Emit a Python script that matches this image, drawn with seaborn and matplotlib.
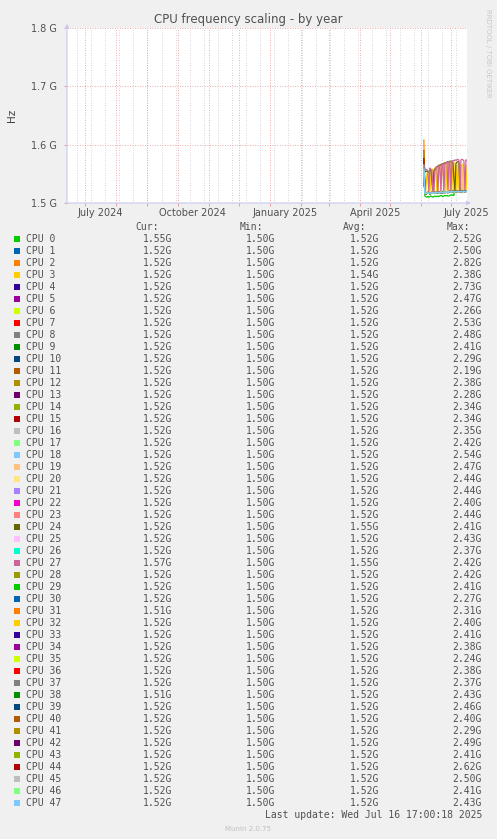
import pandas as pd
import seaborn as sns
import matplotlib.pyplot as plt
from matplotlib.patches import Rectangle

# munin default colour cycle
munin_colors = ["#00CC00", "#0066B3", "#FF8000", "#FFCC00", "#330099", "#990099", "#CCFF00",
                "#FF0000", "#808080", "#008F00", "#00487D", "#B35A00", "#B38F00", "#6B006B",
                "#8FB300", "#B30000", "#BEBEBE", "#80FF80", "#80C9FF", "#FFC080", "#FFE680",
                "#AA80FF", "#EE00CC", "#FF8080", "#666600", "#FFBFFF", "#00FFCC", "#CC6699",
                "#999900"]

cpu_names = [f"CPU {i}" for i in range(48)]

# daily samples (GHz), starting 2025-06-03
first_day = [1.575, 1.562, 1.608, 1.570, 1.558, 1.560, 1.565, 1.580, 1.556, 1.572, 1.560, 1.590,
             1.585, 1.562, 1.566, 1.578, 1.555, 1.560, 1.566, 1.575, 1.568, 1.559, 1.563, 1.570,
             1.580, 1.561, 1.557, 1.560, 1.567, 1.552, 1.559, 1.583, 1.566, 1.556, 1.562, 1.558,
             1.571, 1.553, 1.569, 1.557, 1.574, 1.582, 1.561, 1.560, 1.576, 1.555, 1.558, 1.565]

quiet = [1.517, 1.516, 1.517, 1.518, 1.517, 1.516, 1.517, 1.518, 1.517, 1.517, 1.518, 1.517,
         1.518, 1.518, 1.517, 1.518, 1.519, 1.518, 1.518, 1.519, 1.518, 1.519, 1.519, 1.518,
         1.519, 1.520, 1.519, 1.519, 1.520, 1.519, 1.519, 1.520, 1.519, 1.520, 1.520, 1.519,
         1.520, 1.519, 1.520, 1.520, 1.519, 1.520, 1.520]

cpu0 = [1.575, 1.512, 1.511, 1.510, 1.511, 1.510, 1.511, 1.512, 1.511, 1.510, 1.511, 1.512,
        1.511, 1.511, 1.512, 1.511, 1.512, 1.513, 1.512, 1.511, 1.512, 1.513, 1.512, 1.513,
        1.512, 1.512, 1.513, 1.514, 1.513, 1.514, 1.513, 1.548, 1.550, 1.549, 1.547, 1.545,
        1.520, 1.518, 1.519, 1.547, 1.546, 1.546, 1.547, 1.548]

cpu3 = [1.570, 1.540, 1.521, 1.550, 1.553, 1.520, 1.555, 1.521, 1.556, 1.558, 1.520, 1.560,
        1.562, 1.520, 1.521, 1.564, 1.565, 1.520, 1.566, 1.567, 1.520, 1.568, 1.520, 1.569,
        1.568, 1.520, 1.570, 1.520, 1.521, 1.569, 1.570, 1.520, 1.565, 1.520, 1.568, 1.521,
        1.520, 1.566, 1.520, 1.567, 1.520, 1.521, 1.565, 1.520]

cpu19 = [1.575, 1.518, 1.517, 1.519, 1.518, 1.518, 1.519, 1.518, 1.519, 1.519, 1.518, 1.519,
         1.519, 1.518, 1.519, 1.520, 1.519, 1.519, 1.520, 1.519, 1.519, 1.520, 1.519, 1.520,
         1.519, 1.520, 1.519, 1.520, 1.520, 1.519, 1.520, 1.519, 1.520, 1.520, 1.519, 1.520,
         1.565, 1.520, 1.519, 1.562, 1.520, 1.519, 1.520, 1.520]

cpu24 = [1.580, 1.553, 1.554, 1.555, 1.553, 1.554, 1.556, 1.555, 1.540, 1.521, 1.555, 1.558,
         1.560, 1.562, 1.563, 1.565, 1.564, 1.566, 1.567, 1.566, 1.568, 1.569, 1.568, 1.570,
         1.571, 1.570, 1.572, 1.571, 1.570, 1.569, 1.540, 1.520, 1.568, 1.570, 1.571, 1.570,
         1.525, 1.520, 1.521, 1.520, 1.520, 1.521, 1.520, 1.520]

cpu27 = [1.560, 1.556, 1.558, 1.557, 1.555, 1.520, 1.560, 1.558, 1.556, 1.521, 1.519, 1.555,
         1.560, 1.562, 1.520, 1.563, 1.565, 1.521, 1.566, 1.567, 1.520, 1.568, 1.569, 1.570,
         1.522, 1.570, 1.571, 1.520, 1.572, 1.573, 1.572, 1.574, 1.573, 1.574, 1.575, 1.573,
         1.520, 1.574, 1.575, 1.574, 1.572, 1.521, 1.574, 1.573]

# legend statistics (GHz)
cur_vals = [1.55, 1.52, 1.52, 1.52, 1.52, 1.52, 1.52, 1.52, 1.52, 1.52, 1.52, 1.52,
            1.52, 1.52, 1.52, 1.52, 1.52, 1.52, 1.52, 1.52, 1.52, 1.52, 1.52, 1.52,
            1.52, 1.52, 1.52, 1.57, 1.52, 1.52, 1.52, 1.51, 1.52, 1.52, 1.52, 1.52,
            1.52, 1.52, 1.51, 1.52, 1.52, 1.52, 1.52, 1.52, 1.52, 1.52, 1.52, 1.52]
min_vals = [1.50] * 48
avg_vals = [1.52, 1.52, 1.52, 1.54, 1.52, 1.52, 1.52, 1.52, 1.52, 1.52, 1.52, 1.52,
            1.52, 1.52, 1.52, 1.52, 1.52, 1.52, 1.52, 1.52, 1.52, 1.52, 1.52, 1.52,
            1.55, 1.52, 1.52, 1.55, 1.52, 1.52, 1.52, 1.52, 1.52, 1.52, 1.52, 1.52,
            1.52, 1.52, 1.52, 1.52, 1.52, 1.52, 1.52, 1.52, 1.52, 1.52, 1.52, 1.52]
max_vals = [2.52, 2.50, 2.82, 2.38, 2.73, 2.47, 2.26, 2.53, 2.48, 2.41, 2.29, 2.19,
            2.38, 2.28, 2.34, 2.34, 2.35, 2.42, 2.54, 2.47, 2.44, 2.44, 2.40, 2.44,
            2.41, 2.43, 2.37, 2.42, 2.42, 2.41, 2.27, 2.31, 2.40, 2.41, 2.38, 2.24,
            2.38, 2.37, 2.43, 2.46, 2.40, 2.29, 2.49, 2.41, 2.62, 2.50, 2.41, 2.43]

times = pd.date_range("2025-06-03 16:00", periods=44, freq="D")
special = {0: cpu0, 3: cpu3, 19: cpu19, 24: cpu24, 27: cpu27}

rows = []
for i, name in enumerate(cpu_names):
    vals = special.get(i, [first_day[i]] + quiet)
    for t, v in zip(times, vals):
        rows.append({"time": t, "ghz": v, "cpu": name})
df = pd.DataFrame(rows)
colors = [munin_colors[i % len(munin_colors)] for i in range(48)]

W, H = 497, 839
fig = plt.figure(figsize=(W / 100, H / 100), dpi=100, facecolor="#f0f0f0")
ax = fig.add_axes([67 / W, 1 - 203 / H, 400 / W, 175 / H])
ax.set_facecolor("white")

start = pd.Timestamp("2024-06-12 17:00")
end = pd.Timestamp("2025-07-16 17:00")

# grid: gray every two weeks, red at month starts
for d in pd.date_range("2024-06-23", end, freq="14D"):
    ax.axvline(d, color="#c8c8c8", lw=0.6, ls=(0, (1, 2)), zorder=0)
months = pd.date_range("2024-07-01", "2025-07-01", freq="MS")
red_grid = "#e89090"
for d in months:
    ax.axvline(d, color=red_grid, lw=0.6, ls=(0, (1, 2)), zorder=0.5)
for yv in [1.6, 1.7, 1.8]:
    ax.axhline(yv, color=red_grid, lw=0.6, ls=(0, (1, 2)), zorder=0.5)

sns.lineplot(data=df, x="time", y="ghz", hue="cpu", hue_order=cpu_names, palette=colors,
             legend=False, linewidth=0.9, estimator=None, errorbar=None, ax=ax)

ax.set_xlim(start, end)
ax.set_ylim(1.5, 1.8)
for s in ax.spines.values():
    s.set_visible(False)
ax.set_xlabel("")
ax.set_ylabel("")
ax.set_xticks(months)
ax.set_xticklabels([])
ax.tick_params(axis="x", length=2, color=red_grid, width=0.6)
ax.set_yticks([1.5, 1.6, 1.7, 1.8])
ax.set_yticklabels(["1.5 G", "1.6 G", "1.7 G", "1.8 G"], fontsize=7, color="#505050")
ax.tick_params(axis="y", length=2, color=red_grid, width=0.6, pad=5)

for lab, d in [("July 2024", "2024-07-16"), ("October 2024", "2024-10-16"),
               ("January 2025", "2025-01-16"), ("April 2025", "2025-04-16"),
               ("July 2025", "2025-07-16")]:
    ax.text(pd.Timestamp(d), -0.057, lab, transform=ax.get_xaxis_transform(), ha="center",
            va="center", fontsize=7, color="#505050", clip_on=False)

axis_col = "#c8c8f0"
ax.annotate("", xy=(1.017, 0), xytext=(-0.01, 0), xycoords="axes fraction",
            arrowprops=dict(arrowstyle="-|>", color=axis_col, lw=0.8, mutation_scale=6),
            annotation_clip=False)
ax.annotate("", xy=(0, 1.04), xytext=(0, -0.02), xycoords="axes fraction",
            arrowprops=dict(arrowstyle="-|>", color=axis_col, lw=0.8, mutation_scale=6),
            annotation_clip=False)


def fx(x):
    return x / W


def fy(y):
    return 1 - y / H


fig.text(fx(248), fy(19), "CPU frequency scaling - by year", ha="center", va="center",
         fontsize=8.5, color="#505050")
fig.text(fx(12), fy(115), "Hz", ha="center", va="center", rotation=90,
         fontsize=7.5, color="#404040")
fig.text(fx(488), fy(53), "RRDTOOL / TOBI OETIKER", ha="center", va="center", rotation=-90,
         fontsize=5, color="#c8c8c8")

mono = "DejaVu Sans Mono"
txt = "#505050"
for lab, xr in [("Cur:", 159), ("Min:", 263), ("Avg:", 366), ("Max:", 470)]:
    fig.text(fx(xr), fy(227), lab, ha="right", va="center", family=mono, fontsize=7, color=txt)

for i, name in enumerate(cpu_names):
    y = 239 + 12 * i
    fig.patches.append(Rectangle((fx(14), fy(y + 3)), 6 / W, 6 / H, transform=fig.transFigure,
                                 facecolor=colors[i], edgecolor="none"))
    fig.text(fx(26), fy(y), name, ha="left", va="center", family=mono, fontsize=7, color=txt)
    for val, xr in [(cur_vals[i], 172), (min_vals[i], 275), (avg_vals[i], 379), (max_vals[i], 482)]:
        fig.text(fx(xr), fy(y), f"{val:.2f}G", ha="right", va="center", family=mono,
                 fontsize=7, color=txt)

fig.text(fx(482), fy(815), "Last update: Wed Jul 16 17:00:18 2025", ha="right", va="center",
         family=mono, fontsize=7, color=txt)
fig.text(fx(248), fy(829), "Munin 2.0.75", ha="center", va="center", fontsize=5, color="#c0c0c0")

fig.savefig("out.png", dpi=100, facecolor=fig.get_facecolor())
